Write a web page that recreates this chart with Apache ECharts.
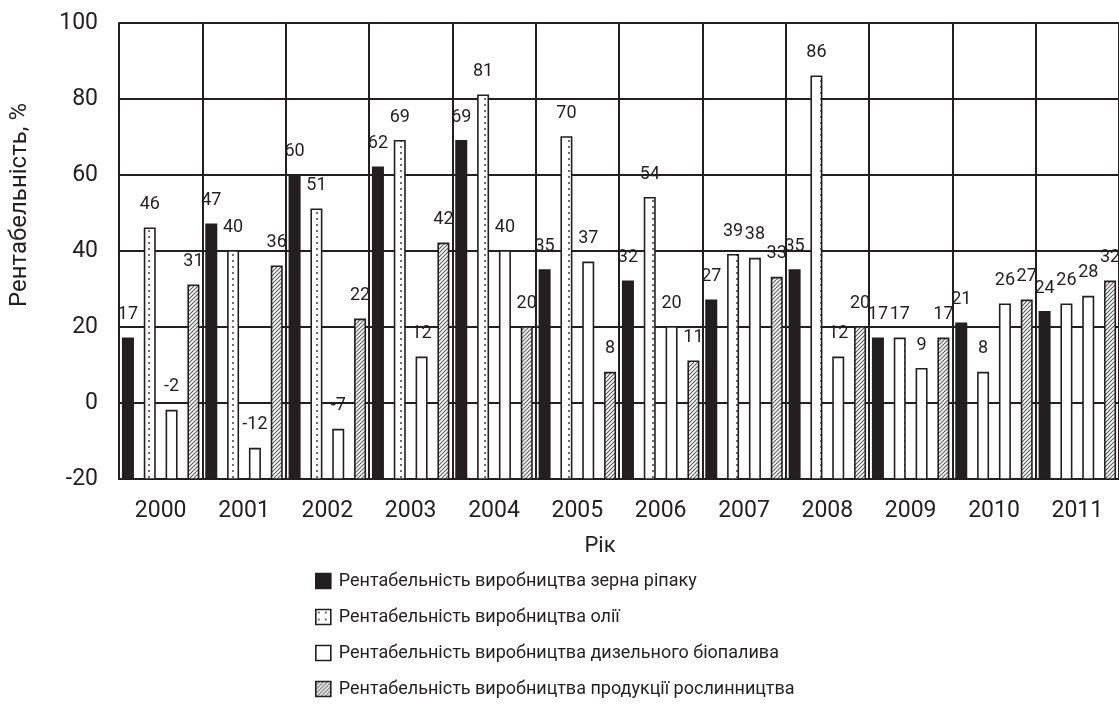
<!DOCTYPE html>
<html><head><meta charset="utf-8">
<script src="https://cdn.jsdelivr.net/npm/echarts@6/dist/echarts.min.js"></script>
<style>html,body{margin:0;padding:0;background:#fff}#c{width:1119px;height:717px}</style>
</head><body><div id="c"></div>
<script>
// ---- data ----
const years = ['2000','2001','2002','2003','2004','2005','2006','2007','2008','2009','2010','2011'];
const seriesNames = [
  'Рентабельність виробництва зерна ріпаку',
  'Рентабельність виробництва олії',
  'Рентабельність виробництва дизельного біопалива',
  'Рентабельність виробництва продукції рослинництва'
];
const rapeseed  = [17, 47, 60, 62, 69, 35, 32, 27, 35, 17, 21, 24];
const oil       = [46, 40, 51, 69, 81, 70, 54, 39, 86, 17,  8, 26];
const biodiesel = [-2,-12, -7, 12, 40, 37, 20, 38, 12,  9, 26, 28];
const crops     = [31, 36, 22, 42, 20,  8, 11, 33, 20, 17, 27, 32];
const yMin = -20, yMax = 100, yStep = 20;
const yName = 'Рентабельність, %';
const xName = 'Рік';

// ---- styles ----
const INK = '#231f20';
const FONT = 'Roboto, "Noto Sans", sans-serif';

function dotPattern() {
  const c = document.createElement('canvas'); c.width = 84; c.height = 6;
  const g = c.getContext('2d');
  g.fillStyle = '#fff'; g.fillRect(0, 0, 84, 6);
  g.fillStyle = '#6d6e71'; g.fillRect(64, 2, 2, 2);
  return { image: c, repeat: 'repeat' };
}
function legendDotPattern() {
  const c = document.createElement('canvas'); c.width = 7; c.height = 7;
  const g = c.getContext('2d');
  g.fillStyle = '#fff'; g.fillRect(0, 0, 7, 7);
  g.fillStyle = '#6d6e71'; g.fillRect(2, 2, 2, 2);
  return { image: c, repeat: 'repeat' };
}
function hatchPattern() {
  const c = document.createElement('canvas'); c.width = 4; c.height = 4;
  const g = c.getContext('2d');
  g.fillStyle = '#fff'; g.fillRect(0, 0, 4, 4);
  g.strokeStyle = '#58595b'; g.lineWidth = 1.1;
  g.beginPath();
  g.moveTo(-1, 1); g.lineTo(1, -1);
  g.moveTo(0, 4); g.lineTo(4, 0);
  g.moveTo(3, 5); g.lineTo(5, 3);
  g.stroke();
  return { image: c, repeat: 'repeat' };
}
const fills = [INK, dotPattern(), '#ffffff', hatchPattern()];
const legendFills = [INK, legendDotPattern(), '#ffffff', fills[3]];
const allValues = [rapeseed, oil, biodiesel, crops];

function makeRender(k) {
  return function (params, api) {
    const cat = api.value(0), v = api.value(1);
    const top = api.coord([cat, v]);
    const base = api.coord([cat, yMin]);
    const band = api.size([1, 0])[0];
    const barW = band * 0.125;
    const cx = top[0] + (k - 1.5) * band * (22 / 84);
    return {
      type: 'rect',
      shape: { x: cx - barW / 2, y: top[1], width: barW, height: base[1] - top[1] },
      style: { fill: fills[k], stroke: INK, lineWidth: 1.6 },
      textContent: { style: { text: String(v), fill: INK, fontSize: 18, fontFamily: FONT } },
      textConfig: { position: 'top', distance: 14 }
    };
  };
}

const chart = echarts.init(document.getElementById('c'), null, { renderer: 'canvas' });
chart.setOption({
  animation: false,
  backgroundColor: '#fff',
  grid: { left: 118, top: 23, bottom: 238, right: -7, containLabel: false },
  legend: {
    orient: 'vertical', left: 310, top: 567, icon: 'rect',
    itemWidth: 15, itemHeight: 15, itemGap: 18,
    textStyle: { color: INK, fontSize: 18, fontFamily: FONT, padding: [0, 0, 0, 3] },
    data: seriesNames.map((n, k) => ({
      name: n,
      itemStyle: { color: legendFills[k], borderColor: INK, borderWidth: 1.6 }
    }))
  },
  xAxis: {
    type: 'category', data: years, boundaryGap: true,
    name: xName, nameLocation: 'middle', nameGap: 56,
    nameTextStyle: { color: INK, fontSize: 22, fontFamily: FONT, padding: [0, 38, 0, 0] },
    axisLine: { onZero: false, lineStyle: { color: INK, width: 2 } },
    axisTick: { show: false },
    axisLabel: { color: INK, fontSize: 23, fontFamily: FONT, margin: 21, interval: 0 },
    splitLine: { show: true, interval: 0, lineStyle: { color: INK, width: 2 } }
  },
  yAxis: {
    type: 'value', min: yMin, max: yMax, interval: yStep,
    name: yName, nameLocation: 'middle', nameGap: 87,
    nameTextStyle: { color: INK, fontSize: 24, fontFamily: FONT, padding: [0, 0, 0, 92] },
    axisLine: { show: true, lineStyle: { color: INK, width: 2 } },
    axisTick: { show: false },
    axisLabel: { color: INK, fontSize: 23, fontFamily: FONT, margin: 21 },
    splitLine: { show: true, lineStyle: { color: INK, width: 2 } }
  },
  series: allValues.map((arr, k) => ({
    type: 'custom',
    name: seriesNames[k],
    renderItem: makeRender(k),
    encode: { x: 0, y: 1 },
    itemStyle: { color: fills[k], borderColor: INK, borderWidth: 1.6 },
    data: arr.map((v, i) => [i, v])
  }))
});
</script>
</body></html>
